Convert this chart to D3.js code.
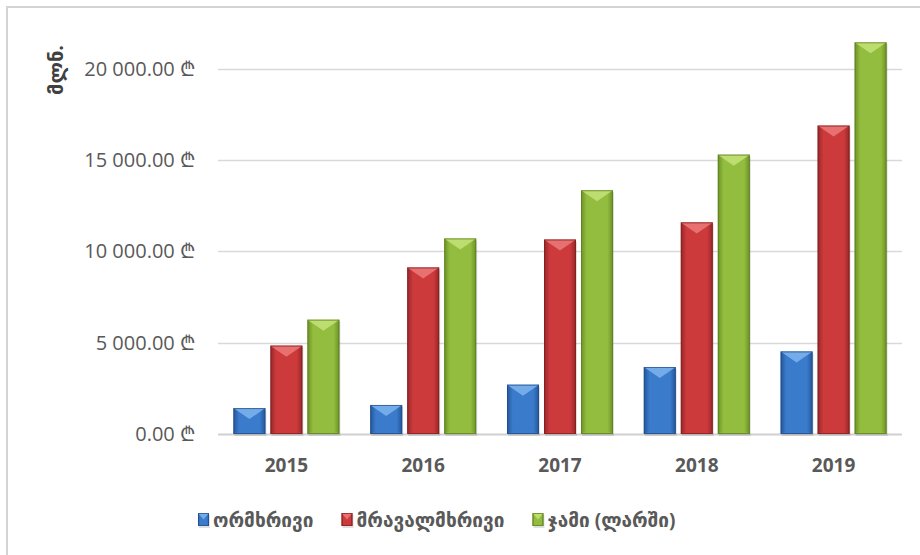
<!DOCTYPE html>
<html>
<head>
<meta charset="utf-8">
<script src="https://cdn.jsdelivr.net/npm/d3@7"></script>
<style>
  body { margin: 0; background: #fff; }
  text { font-family: "Open Sans", "DejaVu Sans", sans-serif; }
</style>
</head>
<body>
<div id="chart"></div>
<script>
var years = ["2015", "2016", "2017", "2018", "2019"];
var seriesNames = ["ორმხრივი", "მრავალმხრივი", "ჯამი (ლარში)"];
var bilateral = [1420, 1590, 2700, 3670, 4520];
var multilateral = [4840, 9120, 10650, 11590, 16890];
var total = [6260, 10710, 13350, 15300, 21450];
var yTicks = [0, 5000, 10000, 15000, 20000];
var yTitle = "მლნ.";

var width = 920, height = 555;
var colors = [
  {base: "#3a7bcb", dark: "#24569a", light: "#7fb4ee", edge: "#1f4a84"},
  {base: "#cc3a3c", dark: "#962628", light: "#ec7a7a", edge: "#7e1c1e"},
  {base: "#93bd3f", dark: "#6c9126", light: "#c5e37a", edge: "#5a7a1e"}
];

var rows = years.map(function(y, i) {
  return {year: y, values: [bilateral[i], multilateral[i], total[i]]};
});

var svg = d3.select("#chart").append("svg")
  .attr("width", width)
  .attr("height", height);

var defs = svg.append("defs");
colors.forEach(function(c, i) {
  var g = defs.append("linearGradient").attr("id", "grad" + i)
    .attr("x1", "0").attr("x2", "1").attr("y1", "0").attr("y2", "0");
  g.append("stop").attr("offset", "0").attr("stop-color", c.dark);
  g.append("stop").attr("offset", "0.18").attr("stop-color", c.base);
  g.append("stop").attr("offset", "0.82").attr("stop-color", c.base);
  g.append("stop").attr("offset", "1").attr("stop-color", c.dark);
});

// outer border (only top and left are inside the frame)
svg.append("path")
  .attr("d", "M7,555V7H920")
  .attr("fill", "none")
  .attr("stroke", "#d4d4d4")
  .attr("stroke-width", 2);

var x0 = d3.scaleBand()
  .domain(years)
  .range([218, 902])
  .paddingInner(0.225)
  .paddingOuter(0.1125);

var x1 = d3.scaleBand()
  .domain([0, 1, 2])
  .range([0, x0.bandwidth()])
  .paddingInner(0.135);

var y = d3.scaleLinear()
  .domain([0, 22000])
  .range([434, 32.3]);

// gridlines
svg.append("g").selectAll("line")
  .data(yTicks)
  .enter()
  .append("line")
  .attr("x1", 218).attr("x2", 902)
  .attr("y1", function(d) { return Math.round(y(d)) + 0.5; })
  .attr("y2", function(d) { return Math.round(y(d)) + 0.5; })
  .attr("stroke", function(d) { return d == 0 ? "#d0d0d0" : "#d9d9d9"; })
  .attr("stroke-width", function(d) { return d == 0 ? 2 : 1.3; });

// y labels
var fmt = d3.format(",.2f");
svg.append("g").selectAll("text")
  .data(yTicks)
  .enter()
  .append("text")
  .attr("x", 195)
  .attr("y", function(d) { return y(d); })
  .attr("dy", "0.35em")
  .attr("text-anchor", "end")
  .attr("font-size", 20)
  .attr("font-weight", 400)
  .attr("fill", "#595959")
  .text(function(d) { return fmt(d).replace(/,/g, " ") + " ₾"; });

// axis title
svg.append("text")
  .attr("transform", "translate(56,70) rotate(-90)")
  .attr("text-anchor", "middle")
  .attr("dy", "0.35em")
  .attr("font-size", 20)
  .attr("font-weight", 700)
  .attr("fill", "#404040")
  .text(yTitle);

// x labels
svg.append("g").selectAll("text")
  .data(years)
  .enter()
  .append("text")
  .attr("x", function(d) { return x0(d) + x0.bandwidth() / 2; })
  .attr("y", 472)
  .attr("text-anchor", "middle")
  .attr("font-size", 19)
  .attr("font-weight", 700)
  .attr("fill", "#595959")
  .text(function(d) { return d; });

// beveled bar
function drawBar(g, bx, by, bw, bh, ci) {
  var c = colors[ci];
  // shadow
  g.append("rect")
    .attr("x", bx + 1).attr("y", by + 2)
    .attr("width", bw).attr("height", bh)
    .attr("fill", "#000").attr("opacity", 0.12);
  g.append("rect")
    .attr("x", bx).attr("y", by)
    .attr("width", bw).attr("height", bh)
    .attr("fill", "url(#grad" + ci + ")");
  var b = Math.min(bh / 2, 11);
  // top facet
  g.append("path")
    .attr("d", "M" + bx + "," + by + "L" + (bx + bw) + "," + by +
      "L" + (bx + bw / 2) + "," + (by + b) + "Z")
    .attr("fill", c.light).attr("opacity", 0.85);
  // bottom facet
  g.append("path")
    .attr("d", "M" + bx + "," + (by + bh) + "L" + (bx + bw) + "," + (by + bh) +
      "L" + (bx + bw / 2) + "," + (by + bh - b) + "Z")
    .attr("fill", c.base).attr("opacity", 0.5);
  g.append("rect")
    .attr("x", bx + 0.5).attr("y", by + 0.5)
    .attr("width", bw - 1).attr("height", bh - 1)
    .attr("fill", "none")
    .attr("stroke", c.edge).attr("stroke-width", 1).attr("opacity", 0.7);
}

var groups = svg.append("g").selectAll("g")
  .data(rows)
  .enter()
  .append("g")
  .attr("transform", function(d) { return "translate(" + x0(d.year) + ",0)"; });

groups.each(function(d) {
  var g = d3.select(this);
  d.values.forEach(function(v, i) {
    drawBar(g, x1(i), y(v), x1.bandwidth(), y(0) - y(v), i);
  });
});

// legend
var legend = svg.append("g").attr("transform", "translate(198,520)");
var lx = 0;
seriesNames.forEach(function(name, i) {
  var item = legend.append("g").attr("transform", "translate(" + lx + ",0)");
  drawBar(item, 0, -7, 11, 13, i);
  var t = item.append("text")
    .attr("x", 15)
    .attr("dy", "0.35em")
    .attr("font-size", 19)
    .attr("font-weight", 700)
    .attr("fill", "#595959")
    .text(name);
  lx += 15 + t.node().getComputedTextLength() + 28;
});
</script>
</body>
</html>
